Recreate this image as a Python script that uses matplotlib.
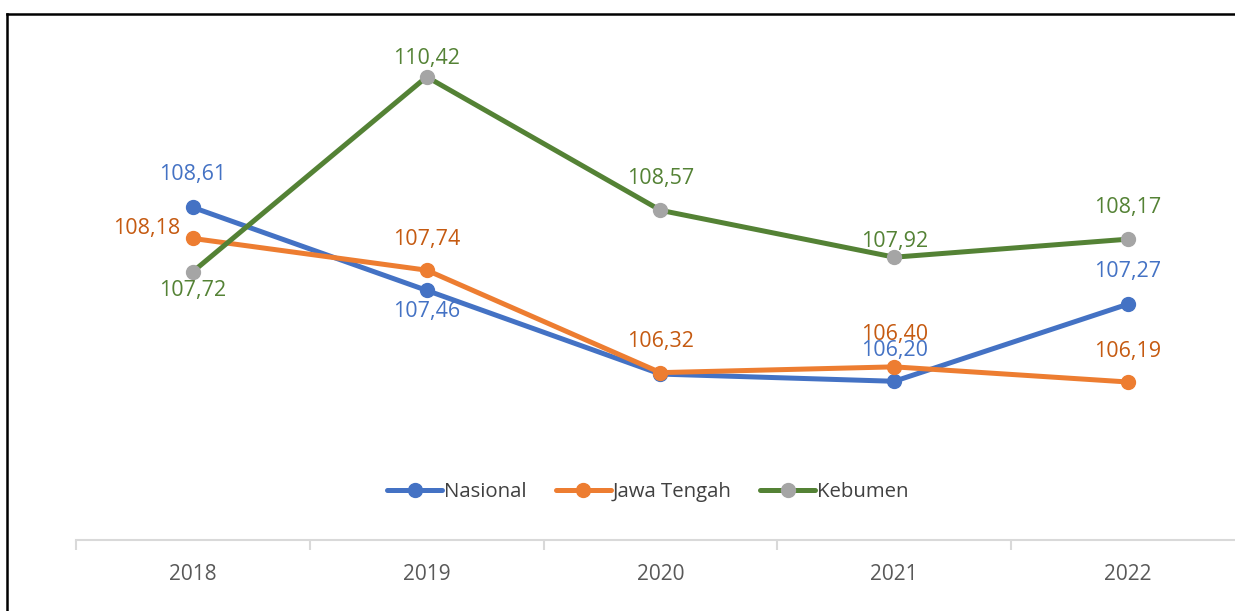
import matplotlib
matplotlib.use("Agg")
import matplotlib.pyplot as plt
from matplotlib.lines import Line2D

# ---- data ----
YEARS = ["2018", "2019", "2020", "2021", "2022"]
NASIONAL = [108.61, 107.46, 106.30, 106.20, 107.27]
JAWA_TENGAH = [108.18, 107.74, 106.32, 106.40, 106.19]
KEBUMEN = [107.72, 110.42, 108.57, 107.92, 108.17]

# label offsets in pixels (dx, dy, ha); None = label hidden behind another
NAS_OFF = [(0, 33, "center"), (0, -21, "center"), None, (0, 31, "center"), (0, 33, "center")]
JT_OFF = [(-13, 10, "right"), (0, 31, "center"), (0, 31, "center"), (0, 32, "center"), (0, 31, "center")]
KEB_OFF = [(0, -19, "center"), (0, 18, "center"), (0, 32, "center"), (0, 16, "center"), (0, 32, "center")]

FONT = "Open Sans"
W, H = 1235, 611

fig = plt.figure(figsize=(W / 100, H / 100), dpi=100)
fig.patch.set_facecolor("white")
# axes extends past the right edge, like the cropped original
ax = fig.add_axes([76 / W, 1 - 540 / H, (1245 - 76) / W, (540 - 35) / H])

x = list(range(len(YEARS)))
series = [
    ("Nasional", NASIONAL, "#4472C4", "#4472C4", "#4472C4", NAS_OFF),
    ("Jawa Tengah", JAWA_TENGAH, "#ED7D31", "#ED7D31", "#C55A11", JT_OFF),
    ("Kebumen", KEBUMEN, "#548235", "#A5A5A5", "#548235", KEB_OFF),
]
for name, vals, lc, mc, tc, offs in series:
    ax.plot(x, vals, color=lc, lw=3.6, marker="o", ms=10,
            mfc=mc, mec=mc, label=name, solid_capstyle="round", zorder=3)

for name, vals, lc, mc, tc, offs in series:
    for xi, v, off in zip(x, vals, offs):
        if off is None:
            continue
        dx, dy, ha = off
        ax.annotate(f"{v:.2f}".replace(".", ","), (xi, v), xytext=(dx, dy),
                    textcoords="offset pixels", ha=ha, va="center",
                    fontsize=15.5, color=tc, family=FONT, zorder=5)

ax.set_xlim(-0.5, len(YEARS) - 0.5)
ax.set_ylim(104, 111)
ax.set_yticks([])
for s in ["top", "right", "left"]:
    ax.spines[s].set_visible(False)
ax.spines["bottom"].set_color("#D9D9D9")
ax.spines["bottom"].set_linewidth(1.5)
ax.set_xticks(x)
ax.set_xticklabels(YEARS, family=FONT, fontsize=15, color="#595959")
ax.tick_params(axis="x", length=0, pad=17)
# category-boundary tick marks
ax.set_xticks([i - 0.5 for i in range(len(YEARS) + 1)], minor=True)
ax.tick_params(axis="x", which="minor", length=7, width=1.5, color="#D9D9D9")

leg = fig.legend(loc="center", bbox_to_anchor=(648 / W, 1 - 492 / H), ncol=3,
                 frameon=False, handlelength=2.7, handletextpad=0.1,
                 columnspacing=1.4, prop={"family": FONT, "size": 14.7})
for t in leg.get_texts():
    t.set_color("#404040")

# outer border (left and top visible, rest cropped)
fig.add_artist(Line2D([7 / W, 7 / W], [0, 1 - 14 / H], color="black", lw=1.8,
                      transform=fig.transFigure))
fig.add_artist(Line2D([7 / W, 1], [1 - 14 / H, 1 - 14 / H], color="black", lw=1.8,
                      transform=fig.transFigure))

fig.savefig("out.png", dpi=100)
